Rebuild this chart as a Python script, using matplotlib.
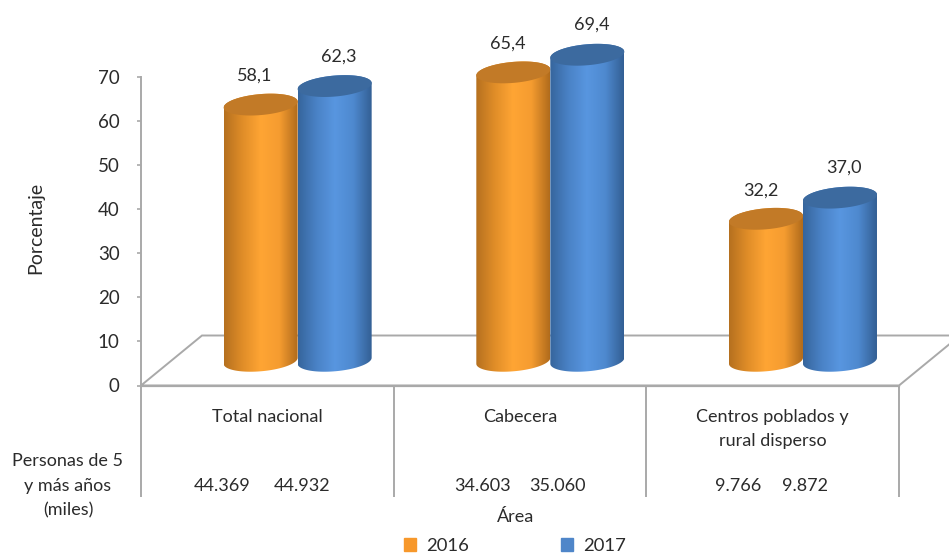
import numpy as np
import matplotlib
matplotlib.use('Agg')
import matplotlib.pyplot as plt
from matplotlib.colors import LinearSegmentedColormap
from matplotlib.patches import Patch, Polygon

plt.rcParams['font.family'] = ['Lato', 'DejaVu Sans']

# datos
areas = ['Total nacional', 'Cabecera', 'Centros poblados y\nrural disperso']
anios = ['2016', '2017']
pct_2016 = [58.1, 65.4, 32.2]
pct_2017 = [62.3, 69.4, 37.0]
personas_2016 = ['44.369', '34.603', '9.766']
personas_2017 = ['44.932', '35.060', '9.872']
etiquetas_y = [0, 10, 20, 30, 40, 50, 60, 70]

GRIS = '#a9a9a9'
TEXTO = '#2b2b2b'
W, H = 949, 554
PX_Y = 4.41  # pixeles por unidad de porcentaje
PX_X = 252.67  # pixeles por categoria

# estilo 3D del cilindro
BASE = 5.6
MEDIO_ANCHO = 37 / PX_X
ALTO_ELIPSE = 10.5 / PX_Y
INCLINA = 3 / PX_Y

# ajuste de la fila de personas por grupo
fila_centro = [-0.02, 0, -0.005]
fila_sep = [0.157, 0.147, 0.133]

naranja = LinearSegmentedColormap.from_list(
    'naranja', ['#b5701f', '#e08d28', '#ffa534', '#f59c30', '#b06b1c'])
azul = LinearSegmentedColormap.from_list(
    'azul', ['#36659c', '#4a82c6', '#5896e0', '#4e89cf', '#335f94'])


def elipse(xc, yc, t):
    x = xc + MEDIO_ANCHO * np.cos(t)
    y = yc + ALTO_ELIPSE * np.sin(t) + INCLINA * np.cos(t)
    return np.column_stack([x, y])


def cilindro(ax, xc, valor, cmap, color_tapa, z):
    arriba = BASE + valor
    abajo = elipse(xc, BASE, np.linspace(np.pi, 2 * np.pi, 60))
    tope = elipse(xc, arriba, np.linspace(0, np.pi, 60))
    cuerpo = Polygon(np.vstack([abajo, tope]), closed=True, transform=ax.transData,
                     facecolor='none', edgecolor='none')
    ax.add_patch(cuerpo)
    grad = np.linspace(0, 1, 256).reshape(1, -1)
    img = ax.imshow(grad, cmap=cmap, aspect='auto', zorder=z,
                    extent=[xc - MEDIO_ANCHO, xc + MEDIO_ANCHO, 0, arriba + 5])
    img.set_clip_path(cuerpo)
    tapa = Polygon(elipse(xc, arriba, np.linspace(0, 2 * np.pi, 120)), closed=True,
                   facecolor=color_tapa, edgecolor='none', zorder=z + 0.1)
    ax.add_patch(tapa)


fig = plt.figure(figsize=(W / 100, H / 100), dpi=100)
y_cero = 385.5
ylim_top = 80
ax = fig.add_axes([141 / W, 1 - y_cero / H, 758 / W, ylim_top * PX_Y / H])

# piso
fondo_x, fondo_y = 61 / PX_X, 50 / PX_Y
piso = Polygon([[-0.5, 0], [-0.5 + fondo_x, fondo_y], [2.5 + fondo_x, fondo_y], [2.5, 0]],
               closed=True, facecolor='white', edgecolor=GRIS, linewidth=1.4,
               clip_on=False, zorder=1)
ax.add_patch(piso)

desp = 0.12
for i in range(len(areas)):
    xc = i + desp
    cilindro(ax, xc - MEDIO_ANCHO, pct_2016[i], naranja, '#c27a27', 3)
    cilindro(ax, xc + MEDIO_ANCHO, pct_2017[i], azul, '#3c6a9f', 4)
    ax.annotate(f'{pct_2016[i]:.1f}'.replace('.', ','),
                (xc - MEDIO_ANCHO, BASE + pct_2016[i]), xytext=(-4, 20.5),
                textcoords='offset points', ha='center', va='center',
                fontsize=13, color=TEXTO)
    ax.annotate(f'{pct_2017[i]:.1f}'.replace('.', ','),
                (xc + MEDIO_ANCHO, BASE + pct_2017[i]), xytext=(3, 21.5),
                textcoords='offset points', ha='center', va='center',
                fontsize=13, color=TEXTO)
    # area y personas debajo del eje
    y_area = -7.1 if '\n' not in areas[i] else -9.9
    ax.text(i, y_area, areas[i], ha='center', va='center',
            fontsize=13, color=TEXTO, linespacing=1.6)
    ax.text(i + fila_centro[i] - fila_sep[i], -22.8, personas_2016[i], ha='center', va='center',
            fontsize=13, color=TEXTO)
    ax.text(i + fila_centro[i] + fila_sep[i], -22.8, personas_2017[i], ha='center', va='center',
            fontsize=13, color=TEXTO)

ax.set_xlim(-0.5, 2.5)
ax.set_ylim(0, ylim_top)

for lado in ['top', 'right']:
    ax.spines[lado].set_visible(False)
ax.spines['left'].set_bounds(0, 70)
ax.spines['left'].set_color(GRIS)
ax.spines['left'].set_linewidth(1.4)
ax.spines['bottom'].set_color(GRIS)
ax.spines['bottom'].set_linewidth(1.6)

ax.set_yticks(etiquetas_y)
ax.tick_params(axis='y', length=3, width=1.2, color=GRIS, labelsize=13.5,
               labelcolor=TEXTO, pad=12.5)
ax.set_xticks([-0.5, 0.5, 1.5, 2.5])
ax.set_xticklabels([])
ax.tick_params(axis='x', length=80, width=1.4, color=GRIS)

ax.set_ylabel('Porcentaje', fontsize=14, color=TEXTO)
ax.yaxis.set_label_coords(44 / W, 1 - 228 / H, transform=fig.transFigure)

fig.text(68 / W, 1 - 486 / H, 'Personas de 5\ny más años\n(miles)', ha='center', va='center',
         fontsize=13, color=TEXTO, linespacing=1.65)
fig.text(516 / W, 1 - 517 / H, 'Área', ha='center', va='center', fontsize=13, color=TEXTO)

fig.legend(handles=[Patch(color='#f7982b', label=anios[0]), Patch(color='#4f86c9', label=anios[1])],
           loc='center', bbox_to_anchor=(515 / W, 1 - 546 / H), ncol=2, frameon=False,
           fontsize=13.3, labelcolor=TEXTO, handlelength=0.65, handleheight=0.65,
           handletextpad=0.55, columnspacing=5.0)

fig.savefig('out.png', dpi=100)
